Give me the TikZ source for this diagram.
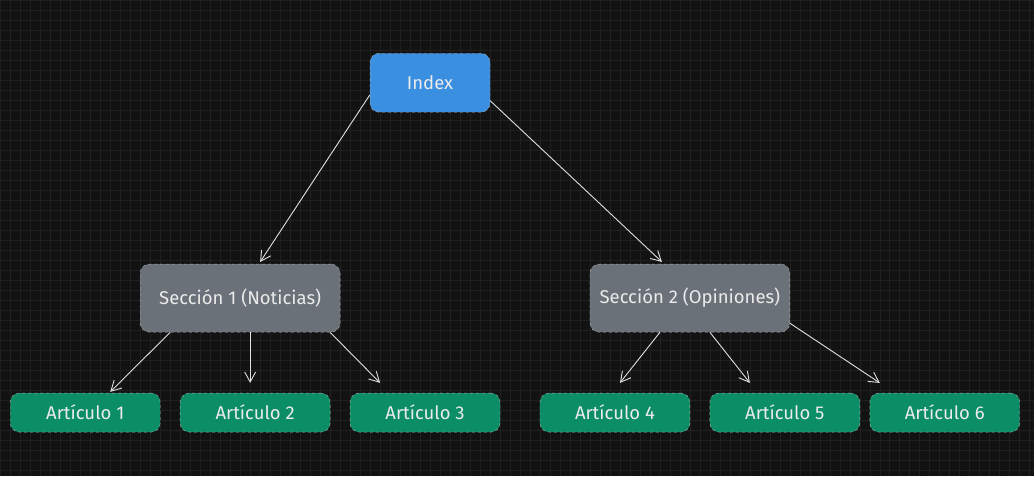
\documentclass[tikz,border=0pt]{standalone}
\usepackage{fontspec}
\setmainfont{Fira Sans}
\usetikzlibrary{arrows.meta}

\definecolor{fondo}{HTML}{121212}
\definecolor{rejilla}{HTML}{202020}
\definecolor{azul}{HTML}{3A8FE0}
\definecolor{gris}{HTML}{6B7178}
\definecolor{verde}{HTML}{0B8E65}
\definecolor{borde}{HTML}{B0B0B0}

\tikzset{
  caja/.style={draw=borde,dashed,rounded corners=9pt,text=white!92!black,font=\fontsize{18.5}{20}\selectfont,inner sep=0pt},
  enlace/.style={draw=white!88!black,line width=0.9pt,-{Straight Barb[length=10pt,width=11pt]}}
}

\begin{document}
\begin{tikzpicture}[x=1pt,y=-1pt]

% fondo y rejilla
\fill[fondo] (0,0) rectangle (1034,476);
\draw[rejilla,line width=0.6pt] (0,0) grid[step=10pt] (1034,476);
\useasboundingbox (0,0) rectangle (1034,476);

% nodos
\node[caja,fill=azul,minimum width=120pt,minimum height=59pt] (index) at (430,82.5) {Index};

\node[caja,fill=gris,minimum width=200pt,minimum height=68pt] (sec1) at (240,298) {Sección 1 (Noticias)};
\node[caja,fill=gris,minimum width=200pt,minimum height=68pt] (sec2) at (690,298) {Sección 2 (Opiniones)};

\node[caja,fill=verde,minimum width=150pt,minimum height=39pt] (art1) at (85,412.5) {Artículo 1};
\node[caja,fill=verde,minimum width=150pt,minimum height=39pt] (art2) at (255,412.5) {Artículo 2};
\node[caja,fill=verde,minimum width=150pt,minimum height=39pt] (art3) at (425,412.5) {Artículo 3};
\node[caja,fill=verde,minimum width=150pt,minimum height=39pt] (art4) at (615,412.5) {Artículo 4};
\node[caja,fill=verde,minimum width=150pt,minimum height=39pt] (art5) at (785,412.5) {Artículo 5};
\node[caja,fill=verde,minimum width=150pt,minimum height=39pt] (art6) at (945,412.5) {Artículo 6};

% flechas
\draw[enlace] ([yshift=-12pt]index.west) -- ([xshift=20pt,yshift=2pt]sec1.north);
\draw[enlace] ([yshift=-18pt]index.east) -- ([xshift=-28pt,yshift=2pt]sec2.north);

\draw[enlace] ([xshift=-70pt]sec1.south) -- ([xshift=25pt,yshift=1pt]art1.north);
\draw[enlace] ([xshift=10pt]sec1.south) -- ([xshift=-5pt,yshift=10pt]art2.north);
\draw[enlace] ([xshift=90pt]sec1.south) -- ([xshift=-45pt,yshift=10pt]art3.north);

\draw[enlace] ([xshift=-30pt]sec2.south) -- ([xshift=5pt,yshift=10pt]art4.north);
\draw[enlace] ([xshift=20pt]sec2.south) -- ([xshift=-35pt,yshift=10pt]art5.north);
\draw[enlace] ([yshift=9pt]sec2.south east) -- ([xshift=-65pt,yshift=10pt]art6.north);

\end{tikzpicture}
\end{document}
